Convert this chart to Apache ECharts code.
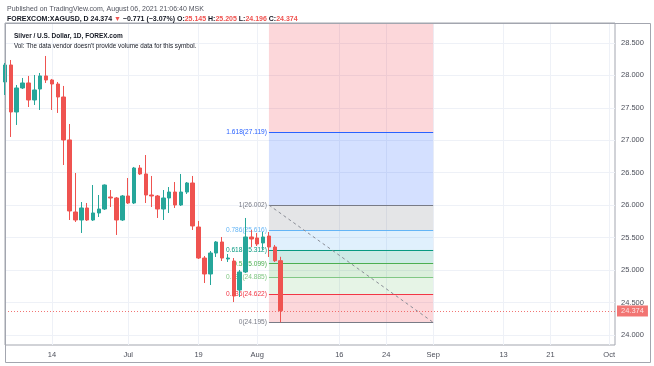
<!DOCTYPE html>
<html><head><meta charset="utf-8">
<script src="https://cdn.jsdelivr.net/npm/echarts@6/dist/echarts.min.js"></script>
<style>html,body{margin:0;padding:0;background:#fff}#c{width:654px;height:366px}</style>
</head><body><div id="c"></div>
<script>
// ---- data ----
const tradingDays = ['2021-06-02','2021-06-03','2021-06-04','2021-06-07','2021-06-08','2021-06-09','2021-06-10','2021-06-11',
'2021-06-14','2021-06-15','2021-06-16','2021-06-17','2021-06-18','2021-06-21','2021-06-22','2021-06-23','2021-06-24','2021-06-25',
'2021-06-28','2021-06-29','2021-06-30','2021-07-01','2021-07-02','2021-07-05','2021-07-06','2021-07-07','2021-07-08','2021-07-09',
'2021-07-12','2021-07-13','2021-07-14','2021-07-15','2021-07-16','2021-07-19','2021-07-20','2021-07-21','2021-07-22','2021-07-23',
'2021-07-26','2021-07-27','2021-07-28','2021-07-29','2021-07-30','2021-08-02','2021-08-03','2021-08-04','2021-08-05','2021-08-06'];
const futureDays = ['2021-08-07','2021-08-08','2021-08-09','2021-08-10','2021-08-11','2021-08-12','2021-08-13','2021-08-14','2021-08-15',
'2021-08-16','2021-08-17','2021-08-18','2021-08-19','2021-08-20','2021-08-21','2021-08-22','2021-08-23','2021-08-24','2021-08-25',
'2021-08-26','2021-08-27','2021-08-28','2021-08-29','2021-08-30','2021-08-31','2021-09-01','2021-09-02','2021-09-03','2021-09-04',
'2021-09-05','2021-09-06','2021-09-07','2021-09-08','2021-09-09','2021-09-10','2021-09-11','2021-09-12','2021-09-13','2021-09-14',
'2021-09-15','2021-09-16','2021-09-17','2021-09-18','2021-09-19','2021-09-20','2021-09-21','2021-09-22','2021-09-23','2021-09-24',
'2021-09-25','2021-09-26','2021-09-27','2021-09-28','2021-09-29','2021-09-30','2021-10-01','2021-10-02'];

const opens  = [27.898,28.160,27.436,27.806,27.883,27.621,27.790,27.991,27.929,27.867,27.667,27.005,25.895,25.772,25.957,25.772,
25.880,25.941,26.126,26.111,25.772,26.142,26.034,26.573,26.481,26.157,26.142,25.941,26.111,26.203,26.003,26.203,26.342,25.664,
25.186,24.940,25.263,25.433,25.171,25.140,24.693,24.971,25.510,25.495,25.418,25.525,25.356,25.145];
const closes = [28.160,27.436,27.806,27.883,27.621,27.775,27.991,27.929,27.867,27.667,27.005,25.911,25.772,25.957,25.772,25.880,
25.941,26.311,26.111,25.772,26.142,26.034,26.573,26.481,26.157,26.142,25.941,26.111,26.203,26.003,26.203,26.342,25.680,25.186,
24.940,25.263,25.433,25.186,25.186,24.601,24.971,25.510,25.479,25.402,25.510,25.356,25.145,24.374];
const lows   = [27.698,27.051,27.236,27.790,27.513,27.544,27.467,27.883,27.467,27.421,26.619,25.772,25.741,25.572,25.757,25.757,
25.818,25.926,25.972,25.541,25.757,26.018,26.018,26.465,26.034,25.972,25.803,25.772,25.880,25.957,25.988,26.173,25.618,25.171,
24.801,24.770,25.202,25.140,25.125,24.508,24.586,24.955,25.356,25.371,25.310,25.202,25.125,24.196];
const highs  = [28.191,28.237,27.852,27.960,27.991,28.006,28.037,28.299,27.945,27.898,27.837,27.251,26.496,26.049,26.034,26.311,
26.157,26.320,26.234,26.126,26.157,26.419,26.589,26.619,26.773,26.450,26.157,26.234,26.280,26.357,26.481,26.357,26.450,25.757,
25.217,25.294,25.448,25.510,25.248,25.186,25.002,25.803,25.618,25.572,25.587,25.587,25.387,25.205];

const yTicks = [24, 24.5, 25, 25.5, 26, 26.5, 27, 27.5, 28, 28.5];
const xTickDates  = ['2021-06-14','2021-07-01','2021-07-19','2021-08-02','2021-08-16','2021-08-24','2021-09-01','2021-09-13','2021-09-21','2021-10-01'];
const xTickLabels = ['14','Jul','19','Aug','16','24','Sep','13','21','Oct'];

const fibRatios = ['0','0.236','0.382','0.5','0.618','0.786','1','1.618','2.618'];
const fibPrices = [24.195, 24.622, 24.885, 25.099, 25.312, 25.616, 26.002, 27.119, 28.926];
const fibColors = ['#787b86','#f23645','#81c784','#4caf50','#089981','#64b5f6','#787b86','#2962ff','#f23645'];
const fibStart = '2021-08-04', fibEnd = '2021-09-01';

// ---- chart ----
const yMin = 23.846, yMax = 28.807;
const categories = tradingDays.concat(futureDays);
const n = closes.length;
const lastClose = closes[n-1], prevClose = closes[n-2];
const chg = lastClose - prevClose;
const pct = chg / prevClose * 100;
const minus = v => (v < 0 ? '\u2212' : '') + Math.abs(v);

function rgba(hex, a) {
  const r = parseInt(hex.slice(1,3),16), g = parseInt(hex.slice(3,5),16), b = parseInt(hex.slice(5,7),16);
  return `rgba(${r},${g},${b},${a})`;
}

const fibAreas = [];
for (let k = 0; k < fibPrices.length - 1; k++) {
  const lo = fibPrices[k], hi = Math.min(fibPrices[k+1], yMax);
  if (lo >= yMax) continue;
  fibAreas.push([{xAxis: fibStart, yAxis: lo, itemStyle: {color: rgba(fibColors[k+1], 0.2)}}, {xAxis: fibEnd, yAxis: hi}]);
}
const fibLines = [];
fibPrices.forEach((p, k) => {
  if (p > yMax) return;
  fibLines.push([
    {coord: [fibStart, p], lineStyle: {color: fibColors[k], width: 1, type: 'solid'},
     label: {show: true, position: 'start', distance: 2, formatter: `${fibRatios[k]}(${p.toFixed(3)})`, color: fibColors[k], fontSize: 6.6}},
    {coord: [fibEnd, p]}
  ]);
});
fibLines.push([
  {coord: [fibStart, fibPrices[6]], lineStyle: {color: '#8a8d96', width: 1, type: [3, 3]}, label: {show: false}},
  {coord: [fibEnd, fibPrices[0]]}
]);

const font = 'Liberation Sans, Arial, sans-serif';
const chart = echarts.init(document.getElementById('c'), null, {renderer: 'canvas'});
chart.setOption({
  animation: false,
  backgroundColor: '#ffffff',
  textStyle: {fontFamily: font},
  title: [
    {text: 'Published on TradingView.com, August 06, 2021 21:06:40 MSK', left: 2, top: 1,
     textStyle: {fontSize: 7, fontWeight: 'normal', color: '#50535e', fontFamily: font}},
    {text: `{b|FOREXCOM:XAGUSD, D} {d|${lastClose.toFixed(3)}} {r|\u25BC} {d|${minus(+chg.toFixed(3))} (${minus(+pct.toFixed(2))}%)} ` +
           `{b|O:}{r|${opens[n-1].toFixed(3)}} {b|H:}{r|${highs[n-1].toFixed(3)}} {b|L:}{r|${lows[n-1].toFixed(3)}} {b|C:}{r|${lastClose.toFixed(3)}}`,
     left: 2, top: 11,
     textStyle: {fontSize: 7, fontFamily: font, rich: {
       b: {fontSize: 7, fontWeight: 'bold', color: '#131722', fontFamily: font},
       d: {fontSize: 7, color: '#131722', fontFamily: font},
       r: {fontSize: 7, color: '#ef5350', fontFamily: font}}}},
    {text: 'Silver / U.S. Dollar, 1D, FOREX.com', left: 9, top: 28,
     textStyle: {fontSize: 6.5, fontWeight: 'bold', color: '#131722', fontFamily: font}},
    {text: "Vol: The data vendor doesn't provide volume data for this symbol.", left: 9, top: 38,
     textStyle: {fontSize: 6.3, fontWeight: 'normal', color: '#131722', fontFamily: font}}
  ],
  graphic: [
    {type: 'rect', shape: {x: 5.5, y: 23.5, width: 645, height: 339}, style: {fill: null, stroke: '#a3a6af', lineWidth: 1}, silent: true, z: 100}
  ],
  grid: {left: 5, right: 39, top: 23, bottom: 21, show: true, borderColor: '#a3a6af', borderWidth: 1},
  xAxis: {
    type: 'category', data: categories, boundaryGap: false,
    axisLine: {show: false}, axisTick: {show: false},
    axisLabel: {interval: (i, v) => xTickDates.includes(v), formatter: v => xTickLabels[xTickDates.indexOf(v)],
      fontSize: 7.5, color: '#4c4f5a', margin: 6, fontFamily: font},
    splitLine: {show: true, interval: (i, v) => xTickDates.includes(v), lineStyle: {color: '#eef1f7', width: 1}}
  },
  yAxis: {
    type: 'value', position: 'right', min: yMin, max: yMax, scale: true,
    axisLine: {show: false}, axisTick: {show: false, customValues: yTicks},
    axisLabel: {customValues: yTicks, formatter: v => v.toFixed(3), fontSize: 7.5, color: '#4c4f5a', margin: 6, fontFamily: font},
    splitLine: {show: false}
  },
  series: [
    {type: 'line', data: [], z: 0, silent: true,
     markLine: {silent: true, z: 0, symbol: ['none','none'], label: {show: false}, animation: false,
       lineStyle: {color: '#eef1f7', type: 'solid', width: 1},
       data: yTicks.map(v => ({yAxis: v}))}},
    {type: 'line', data: [], z: 1, silent: true,
     markArea: {silent: true, z: 1, data: fibAreas},
     markLine: {silent: true, z: 1, symbol: ['none','none'], animation: false, data: fibLines}},
    {type: 'candlestick', z: 3, barWidth: 4,
     data: opens.map((o, i) => [o, closes[i], lows[i], highs[i]]),
     itemStyle: {color: '#26a69a', color0: '#ef5350', borderColor: '#26a69a', borderColor0: '#ef5350', borderWidth: 1},
     markLine: {silent: true, symbol: ['none','none'], animation: false,
       lineStyle: {color: '#ef5350', type: [1, 2], width: 1, opacity: 0.8},
       label: {show: true, position: 'end', distance: 2, formatter: lastClose.toFixed(3), color: '#fff',
         backgroundColor: '#ef5350', padding: [2, 4, 1, 4], fontSize: 7.5, fontFamily: font},
       data: [{yAxis: lastClose}]}}
  ]
});
</script></body></html>
